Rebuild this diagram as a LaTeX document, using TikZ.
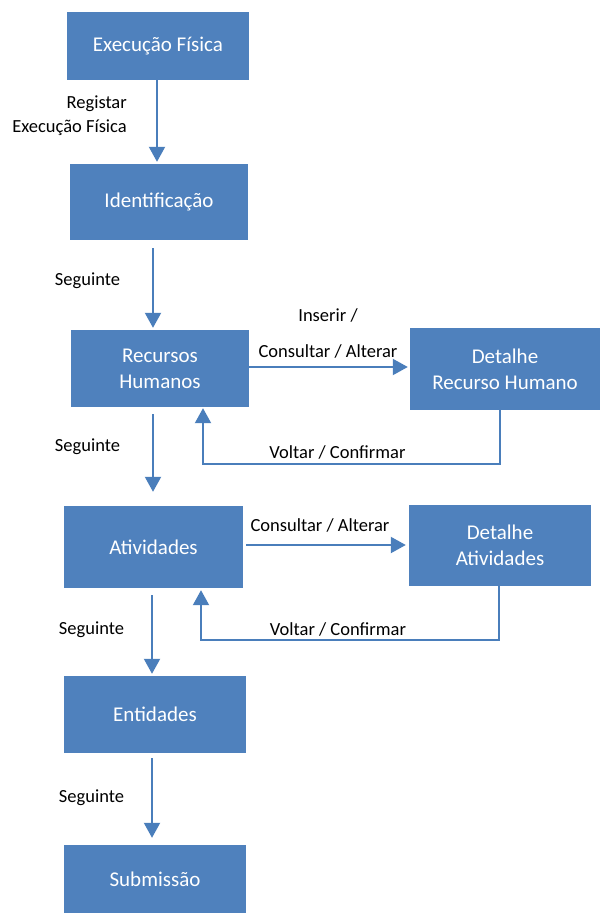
\documentclass[tikz,border=0pt]{standalone}
\usepackage{fontspec}
\setmainfont{Carlito}
\usetikzlibrary{arrows.meta}
\definecolor{boxblue}{HTML}{4F81BD}
\definecolor{lineblue}{HTML}{4A7EBB}
\begin{document}
\begin{tikzpicture}[x=1pt,y=-1pt,
    box/.style={rectangle,fill=boxblue,text=white,align=center,inner sep=0pt,
      font=\fontsize{21}{26}\selectfont},
    lbl/.style={font=\fontsize{18.5}{24}\selectfont,inner sep=0pt},
    arr/.style={draw=lineblue,line width=2pt,-{Triangle[length=15pt,width=16pt]}}]
  \useasboundingbox (0,0) rectangle (601,915);
  % boxes
  \node[box,minimum width=182pt,minimum height=68pt] (exec) at (158,46) {Execução Física};
  \node[box,minimum width=178pt,minimum height=76pt] (ident) at (159,202) {Identificação};
  \node[box,minimum width=178pt,minimum height=77pt] (rh) at (160,368.5) {Recursos\\Humanos};
  \node[box,minimum width=190pt,minimum height=82pt] (drh) at (505,369) {Detalhe\\Recurso Humano};
  \node[box,minimum width=179pt,minimum height=82pt] (ativ) at (153.5,547) {Atividades};
  \node[box,minimum width=182pt,minimum height=81pt] (dativ) at (500,545.5) {Detalhe\\Atividades};
  \node[box,minimum width=182pt,minimum height=77pt] (ent) at (155,714.5) {Entidades};
  \node[box,minimum width=182pt,minimum height=68pt] (sub) at (155,879) {Submissão};
  % labels
  \node[lbl,anchor=east,align=right] (reglbl) at (127,116) {Registar\\Execução Física};
  \node[lbl] (seg1) at (87.5,281) {Seguinte};
  \node[lbl] (seg2) at (87.5,447) {Seguinte};
  \node[lbl] (seg3) at (91.5,630) {Seguinte};
  \node[lbl] (seg4) at (91.5,798) {Seguinte};
  \node[lbl,align=center] (inslbl) at (328,333) {Inserir /\\[12pt]Consultar / Alterar};
  \node[lbl] (vol1) at (337.5,452) {Voltar / Confirmar};
  \node[lbl] (conslbl) at (320,525) {Consultar / Alterar};
  \node[lbl] (vol2) at (338,629) {Voltar / Confirmar};
  % connectors
  \begin{scope}[arr]
    \draw ([xshift=-1pt]exec.south) -- ([xshift=-2pt,yshift=2pt]ident.north);
    \draw ([xshift=-6pt,yshift=-8pt]ident.south) -- ([xshift=-7pt,yshift=2pt]rh.north);
    \draw ([xshift=-7pt,yshift=-7pt]rh.south) -- ([xshift=-0.5pt,yshift=14pt]ativ.north);
    \draw ([xshift=-1.5pt,yshift=-7pt]ativ.south) -- ([xshift=-3pt,yshift=2pt]ent.north);
    \draw ([xshift=-3pt,yshift=-5pt]ent.south) -- ([xshift=-3pt,yshift=7pt]sub.north);
    \draw ([yshift=1.5pt]rh.east) -- ([xshift=-2pt,yshift=1.5pt]rh.east -| drh.west);
    \draw ([xshift=3pt,yshift=2pt]ativ.east) -- ([xshift=-3pt,yshift=2pt]ativ.east -| dativ.west);
    \draw ([xshift=-5pt]drh.south) -- ++(0,54) -| ([xshift=43pt,yshift=-1pt]rh.south);
    \draw ([xshift=-1pt]dativ.south) -- ++(0,54) -| ([xshift=47.5pt,yshift=-2pt]ativ.south);
  \end{scope}
\end{tikzpicture}
\end{document}
